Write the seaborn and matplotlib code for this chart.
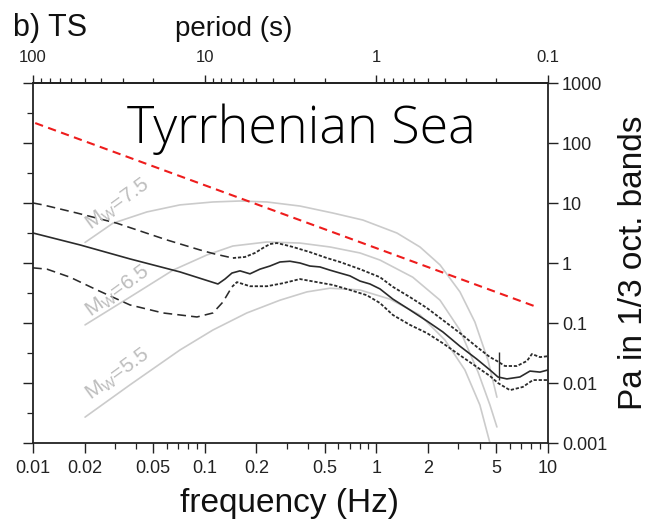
import numpy as np
import matplotlib
matplotlib.use("Agg")
import matplotlib.pyplot as plt
from matplotlib.ticker import FixedLocator, NullFormatter
import seaborn as sns

# ---------------------------------------------------------------
# Ambient noise levels, Pa in 1/3 octave bands (median and spread)
# ---------------------------------------------------------------
median_freq = [0.01, 0.0188, 0.0367, 0.0718, 0.1195, 0.1313, 0.1442, 0.1606, 0.1836,
               0.21, 0.24, 0.2746, 0.314, 0.359, 0.41, 0.469, 0.537, 0.614, 0.702,
               0.803, 0.918, 1.05, 1.249, 1.57, 1.97, 2.44, 3.07, 3.85, 4.59, 5.11,
               5.76, 6.86, 7.85, 8.98, 10.0]
median_pa = [3.16, 2.0, 1.17, 0.71, 0.447, 0.54, 0.68, 0.74, 0.66,
             0.79, 0.89, 1.04, 1.07, 1.0, 0.89, 0.86, 0.76, 0.68, 0.61,
             0.5, 0.447, 0.37, 0.25, 0.165, 0.108, 0.071, 0.041, 0.025, 0.0165, 0.0126,
             0.0117, 0.0126, 0.0158, 0.0152, 0.0165]

upper_freq = [0.01, 0.01144, 0.01804, 0.03084, 0.0603, 0.0939, 0.1148, 0.146, 0.1717,
              0.1963, 0.2186, 0.24, 0.2637, 0.2936, 0.3268, 0.41, 0.5157, 0.614, 0.803,
              1.05, 1.249, 1.57, 1.97, 2.44, 3.07, 3.85, 4.59, 5.04, 5.61, 6.59, 7.54,
              8.06, 8.98, 10.0]
upper_pa = [10.0, 9.3, 6.8, 4.6, 2.42, 1.65, 1.41, 1.21, 1.26,
            1.47, 1.78, 2.07, 2.15, 2.0, 1.85, 1.52, 1.21, 1.04, 0.79,
            0.58, 0.4, 0.27, 0.178, 0.112, 0.068, 0.04, 0.027, 0.0233, 0.0192, 0.0192, 0.0233,
            0.0304, 0.027, 0.028]

lower_freq = [0.01, 0.01206, 0.01643, 0.0236, 0.0367, 0.0572, 0.0902, 0.1117, 0.1278,
              0.1442, 0.1542, 0.1836, 0.2306, 0.2858, 0.359, 0.451, 0.559, 0.702, 0.881,
              1.05, 1.249, 1.57, 1.97, 2.44, 3.07, 3.85, 4.59, 5.11, 6.0, 7.14, 8.17, 10.0]
lower_pa = [0.83, 0.79, 0.58, 0.355, 0.2, 0.147, 0.126, 0.147, 0.224,
            0.4, 0.48, 0.41, 0.41, 0.46, 0.54, 0.48, 0.43, 0.355, 0.29,
            0.215, 0.136, 0.093, 0.068, 0.046, 0.029, 0.0185, 0.0131, 0.01, 0.0076, 0.0086,
            0.0112, 0.0112]

# Earthquake source spectra for three magnitudes
mw75_freq = [0.0201, 0.0292, 0.0461, 0.0718, 0.1117, 0.1606, 0.2306, 0.359, 0.559,
             0.835, 1.318, 1.795, 2.35, 3.07, 3.75, 4.47, 5.04]
mw75_pa = [2.2, 4.6, 7.1, 9.3, 10.4, 10.8, 10.4, 8.9, 6.8,
           5.2, 3.16, 1.85, 0.93, 0.33, 0.104, 0.024, 0.0058]

mw65_freq = [0.0201, 0.0367, 0.0654, 0.103, 0.146, 0.2306, 0.359, 0.537, 0.803,
             1.05, 1.63, 2.35, 3.07, 3.91, 4.59, 5.04]
mw65_pa = [0.093, 0.27, 0.76, 1.36, 1.92, 2.24, 2.15, 1.85, 1.47,
           1.12, 0.58, 0.24, 0.076, 0.0153, 0.0043, 0.00185]

mw55_freq = [0.0201, 0.0367, 0.0718, 0.1117, 0.176, 0.2746, 0.394, 0.537, 0.803,
             1.2, 1.795, 2.51, 3.28, 4.01, 4.59]
mw55_pa = [0.0027, 0.0093, 0.0355, 0.0764, 0.147, 0.24, 0.33, 0.38, 0.355,
           0.25, 0.136, 0.052, 0.0165, 0.0043, 0.001]

mw_labels = [r"M$_W$=7.5", r"M$_W$=6.5", r"M$_W$=5.5"]

# Reference threshold (red dashed)
thresh_freq = [0.0103, 8.6]
thresh_pa = [215.0, 0.185]

# Vertical marker near 5 Hz
marker_freq = 5.18
marker_pa = [0.0112, 0.033]

# Axis ticks
freq_ticks = [0.01, 0.02, 0.05, 0.1, 0.2, 0.5, 1, 2, 5, 10]
freq_labels = ["0.01", "0.02", "0.05", "0.1", "0.2", "0.5", "1", "2", "5", "10"]
pa_ticks = [1e-3, 1e-2, 1e-1, 1, 10, 100, 1000]
pa_labels = ["0.001", "0.01", "0.1", "1", "10", "100", "1000"]
period_ticks = [100, 10, 1, 0.1]
period_labels = ["100", "10", "1", "0.1"]

# ---------------------------------------------------------------
sns.set_theme(style="ticks")
plt.rcParams["font.family"] = ["Liberation Sans", "DejaVu Sans"]
plt.rcParams["mathtext.default"] = "regular"

W, H = 648, 526
fig = plt.figure(figsize=(W / 100, H / 100), dpi=100)
ax = fig.add_axes([33 / W, 1 - 443 / H, 515 / W, 360 / H])
ax.set_xscale("log")
ax.set_yscale("log")

DARK = "#2b2b2b"
GRAY = "#cbcbcb"


def curve(f, p, **kw):
    sns.lineplot(x=np.asarray(f), y=np.asarray(p), ax=ax, sort=False,
                 estimator=None, **kw)


# magnitude spectra
for fr, pa in [(mw75_freq, mw75_pa), (mw65_freq, mw65_pa), (mw55_freq, mw55_pa)]:
    curve(fr, pa, color=GRAY, lw=1.2, zorder=1)

# threshold line
curve(thresh_freq, thresh_pa, color="#ee1c1c", lw=1.5, linestyle=(0, (4, 2.6)), zorder=3)

# spread curves: long dashes at low frequency, short dashes above
split = 0.146
for fr, pa in [(upper_freq, upper_pa), (lower_freq, lower_pa)]:
    fr = np.asarray(fr)
    pa = np.asarray(pa)
    k = int(np.searchsorted(fr, split, side="right"))
    curve(fr[:k], pa[:k], color=DARK, lw=1.15, linestyle=(0, (5.5, 3.2)), zorder=2)
    curve(fr[k - 1:], pa[k - 1:], color=DARK, lw=1.3, linestyle=(0, (1.8, 1.0)), zorder=2)

# median
curve(median_freq, median_pa, color=DARK, lw=1.2, zorder=2)

ax.vlines(marker_freq, marker_pa[0], marker_pa[1], color=DARK, lw=1.0, zorder=2)

# magnitude labels
for lbl, (xf, yp) in zip(mw_labels, [(0.031, 9.6), (0.0313, 0.34), (0.031, 0.0136)]):
    ax.text(xf, yp, lbl, color="#bdbdbd", fontsize=15, rotation=36,
            rotation_mode="anchor", ha="center", va="center")

ax.text(0.522, 0.833, "Tyrrhenian Sea", transform=ax.transAxes, ha="center",
        va="baseline", fontsize=37.5, fontfamily=["Open Sans", "DejaVu Sans"],
        fontweight="light", color="#000000")

# axes and ticks
ax.set_xlim(0.01, 10)
ax.set_ylim(1e-3, 1e3)
ax.set_xlabel("")
ax.set_ylabel("")

ax.set_xticks(freq_ticks)
ax.set_xticklabels(freq_labels)
minor_f = [m * 10.0 ** e for e in (-2, -1, 0) for m in (3, 4, 6, 7, 8, 9)]
ax.xaxis.set_minor_locator(FixedLocator(minor_f))
ax.xaxis.set_minor_formatter(NullFormatter())

ax.set_yticks(pa_ticks)
ax.set_yticklabels(pa_labels)
ax.yaxis.set_minor_locator(FixedLocator([10.0 ** (e + 0.5) for e in range(-3, 3)]))
ax.yaxis.set_minor_formatter(NullFormatter())

ax.tick_params(axis="x", which="major", direction="out", length=7, width=1.0,
               labelsize=13, pad=5, colors="#222222", bottom=True, top=False)
ax.tick_params(axis="x", which="minor", direction="out", length=4, width=0.9,
               bottom=True, top=False, colors="#222222")
ax.tick_params(axis="y", which="major", direction="out", length=7, width=1.0,
               left=True, right=True, labelleft=False, labelright=True,
               labelsize=13, pad=3, colors="#222222")
ax.tick_params(axis="y", which="minor", direction="out", length=4, width=0.9,
               left=True, right=False, colors="#222222")

for s in ax.spines.values():
    s.set_color("#222222")
    s.set_linewidth(1.3)

inv = lambda v: 1.0 / np.asarray(v, dtype=float)
sec = ax.secondary_xaxis("top", functions=(inv, inv))
sec.set_xticks(period_ticks)
sec.set_xticklabels(period_labels)
minor_p = [m * 10.0 ** e for e in (1, 0, -1) for m in range(2, 10)]
sec.xaxis.set_minor_locator(FixedLocator(minor_p))
sec.xaxis.set_minor_formatter(NullFormatter())
sec.tick_params(axis="x", which="major", direction="out", length=6, width=1.0,
                labelsize=12, pad=7, colors="#222222")
sec.tick_params(axis="x", which="minor", direction="out", length=3.5, width=0.9,
                colors="#222222")
sec.spines["top"].set_color("#222222")
sec.spines["top"].set_linewidth(1.3)

# titles and axis labels
fig.text(13 / W, 1 - 36 / H, "b) TS", fontsize=22, ha="left", va="baseline",
         color="#111111")
fig.text(234 / W, 1 - 36 / H, "period (s)", fontsize=20, ha="center", va="baseline",
         color="#111111")
fig.text(290 / W, 1 - 512 / H, "frequency (Hz)", fontsize=24, ha="center",
         va="baseline", color="#111111")
fig.text(633 / W, 1 - 263 / H, "Pa in 1/3 oct. bands", fontsize=24, rotation=90,
         ha="center", va="center", color="#111111")

fig.savefig("out.png", dpi=100, facecolor="white")
